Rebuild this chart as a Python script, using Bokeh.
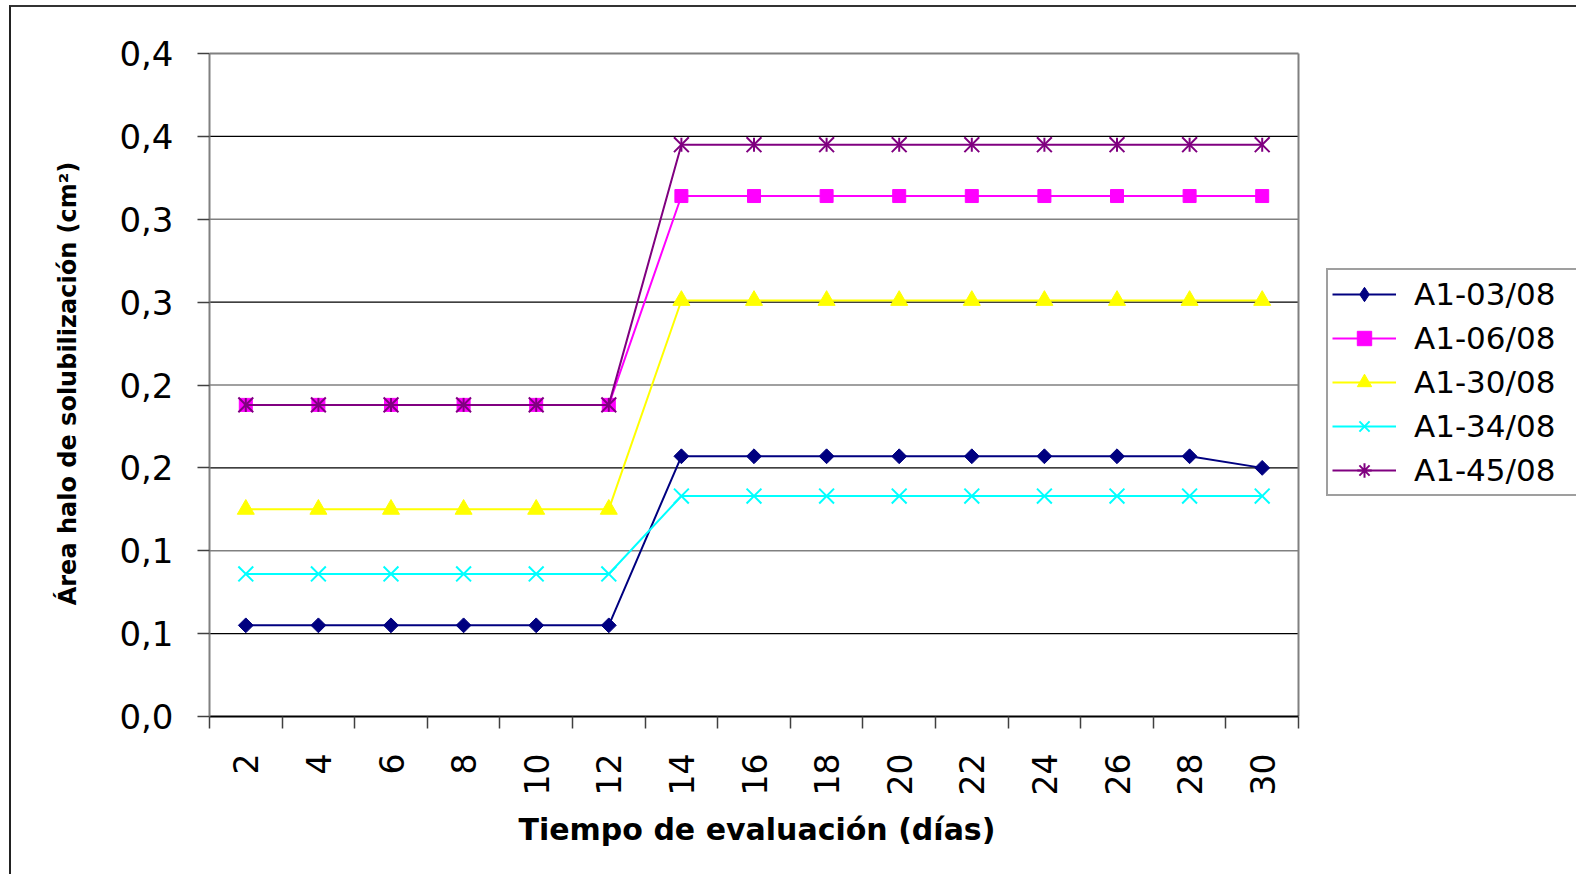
import math
from bokeh.plotting import figure
from bokeh.models import (Range1d, FixedTicker, Legend, LegendItem, InlineStyleSheet,
                          Title, CDSView, IndexFilter)
from bokeh.embed import file_html
from bokeh.resources import INLINE

# Evaluation days (categories) and halo area per isolate (cm²)
dias = [2, 4, 6, 8, 10, 12, 14, 16, 18, 20, 22, 24, 26, 28, 30]
a1_03 = [0.055, 0.055, 0.055, 0.055, 0.055, 0.055, 0.157, 0.157, 0.157, 0.157, 0.157, 0.157, 0.157, 0.157, 0.150]
a1_06 = [0.188, 0.188, 0.188, 0.188, 0.188, 0.188, 0.314, 0.314, 0.314, 0.314, 0.314, 0.314, 0.314, 0.314, 0.314]
a1_30 = [0.125, 0.125, 0.125, 0.125, 0.125, 0.125, 0.251, 0.251, 0.251, 0.251, 0.251, 0.251, 0.251, 0.251, 0.251]
a1_34 = [0.086, 0.086, 0.086, 0.086, 0.086, 0.086, 0.133, 0.133, 0.133, 0.133, 0.133, 0.133, 0.133, 0.133, 0.133]
a1_45 = [0.188, 0.188, 0.188, 0.188, 0.188, 0.188, 0.345, 0.345, 0.345, 0.345, 0.345, 0.345, 0.345, 0.345, 0.345]

y_ticks = [0.0, 0.05, 0.1, 0.15, 0.2, 0.25, 0.3, 0.35, 0.4]
y_tick_labels = ["0,0", "0,1", "0,1", "0,2", "0,2", "0,3", "0,3", "0,4", "0,4"]

# category slots: points sit in the middle, tick marks on the boundaries
n = len(dias)
x_pos = [i + 0.5 for i in range(n)]
x_bounds = [float(i) for i in range(n + 1)]
y_max = y_ticks[-1]

FONT = "DejaVu Sans"

# page layout (pixels): plot area 209..1298 wide, 53..716 tall; the canvas
# frame reaches the right edge so the legend can sit beside the plot area
W, H = 1576, 874
PL, PR, PT, PB = 209, 1298, 53, 716
x_end = n * (W - PL) / (PR - PL)
y_end = y_max * (PB - PT + 3) / (PB - PT)

# outer chart frame, drawn by the page around the canvas
frame_css = InlineStyleSheet(css="""
:host { position: relative; }
:host::after {
  content: ""; position: absolute; left: 9px; top: 5px; width: 2000px; height: 2000px;
  border-left: 2.5px solid #222; border-top: 2.5px solid #333;
  pointer-events: none; box-sizing: border-box;
}
""")

p = figure(width=W, height=H, output_backend="svg", toolbar_location=None,
           x_range=Range1d(0, x_end), y_range=Range1d(0, y_end),
           min_border_left=PL, min_border_right=0,
           min_border_top=PT - 3, min_border_bottom=H - PB,
           background_fill_color="white", border_fill_color="white",
           stylesheets=[frame_css])

p.xgrid.visible = False
p.ygrid.visible = False
p.outline_line_color = None

# horizontal gridlines across the plot area, alternating dark / grey
grid_y = y_ticks[1:-1]
grid_col = ["black" if i % 2 == 0 else "#808080" for i in range(len(grid_y))]
p.segment(x0=[0] * len(grid_y), x1=[n] * len(grid_y), y0=grid_y, y1=grid_y,
          line_color=grid_col, line_width=1.3)
# plot-area border (top and right)
p.segment(x0=[0, n], x1=[n, n], y0=[y_max, 0], y1=[y_max, y_max],
          line_color="#808080", line_width=2)

# y axis
ya = p.yaxis[0]
ya.ticker = FixedTicker(ticks=y_ticks)
ya.bounds = (0, y_max)
ya.major_label_overrides = {t: lab for t, lab in zip(y_ticks, y_tick_labels)}
ya.minor_tick_line_color = None
ya.major_tick_in = 0
ya.major_tick_out = 12
ya.major_tick_line_color = "#404040"
ya.major_tick_line_width = 1.5
ya.axis_line_color = "#808080"
ya.axis_line_width = 2
ya.major_label_standoff = 24
ya.major_label_text_font = FONT
ya.major_label_text_font_size = "34px"
ya.major_label_text_color = "black"
ya.axis_label = "Área halo de solubilización (cm²)"
ya.axis_label_text_font = FONT
ya.axis_label_text_font_style = "bold"
ya.axis_label_text_font_size = "24px"
ya.axis_label_text_color = "black"
ya.axis_label_standoff = 34

# x axis
xa = p.xaxis[0]
xa.ticker = FixedTicker(ticks=x_pos, minor_ticks=x_bounds)
xa.bounds = (0, n)
xa.major_label_overrides = {x: str(d) for x, d in zip(x_pos, dias)}
xa.major_tick_in = 0
xa.major_tick_out = 0
xa.minor_tick_in = 0
xa.minor_tick_out = 12
xa.minor_tick_line_color = "#404040"
xa.minor_tick_line_width = 1.5
xa.axis_line_color = "black"
xa.axis_line_width = 2
xa.major_label_orientation = math.pi / 2
xa.major_label_standoff = 25
xa.major_label_text_font = FONT
xa.major_label_text_font_size = "33px"
xa.major_label_text_color = "black"

p.add_layout(Title(text="Tiempo de evaluación (días)", align="left", offset=309,
                   text_font=FONT, text_font_style="bold", text_font_size="30px",
                   text_color="black", standoff=23), "below")

series = [
    ("A1-03/08", a1_03, "#000080"),
    ("A1-06/08", a1_06, "#FF00FF"),
    ("A1-30/08", a1_30, "#FFFF00"),
    ("A1-34/08", a1_34, "#00FFFF"),
    ("A1-45/08", a1_45, "#800080"),
]

# legend swatches for composite markers reuse the first point only
first_point = CDSView(filter=IndexFilter(indices=[0]))

items = []
for name, vals, col in series:
    ln = p.line(x_pos, vals, line_color=col, line_width=2)
    rs = [ln]
    if name == "A1-03/08":
        p.scatter(x_pos, vals, marker="square", angle=math.pi / 4, size=10.5,
                  fill_color=col, line_color=col)
        rs.append(p.scatter(x_pos, vals, marker="diamond", size=4, fill_color=col,
                            line_color=col, view=first_point))
    elif name == "A1-06/08":
        rs.append(p.scatter(x_pos, vals, marker="square", size=13,
                            fill_color=col, line_color=col))
    elif name == "A1-30/08":
        rs.append(p.scatter(x_pos, vals, marker="triangle", size=17,
                            fill_color=col, line_color=col))
    elif name == "A1-34/08":
        rs.append(p.scatter(x_pos, vals, marker="x", size=21,
                            line_color=col, line_width=2))
    else:
        p.scatter(x_pos, vals, marker="x", size=21, line_color=col, line_width=2)
        p.scatter(x_pos, vals, marker="dash", angle=math.pi / 2, size=14,
                  line_color=col, line_width=2)
        rs.append(p.scatter(x_pos, vals, marker="asterisk", size=4, line_color=col,
                            line_width=2, view=first_point))
    items.append(LegendItem(label=name, renderers=rs))

legend = Legend(items=items, location=(1326 - PL, PB - 496),
                glyph_width=64, glyph_height=36, label_height=40, label_width=158,
                label_standoff=18, spacing=4, padding=4, margin=0,
                label_text_font=FONT, label_text_font_size="31px",
                label_text_color="black",
                border_line_color="#404040", border_line_width=2,
                background_fill_color="white", background_fill_alpha=1)
p.add_layout(legend, "center")

open("out.html", "w").write(file_html(p, INLINE))
